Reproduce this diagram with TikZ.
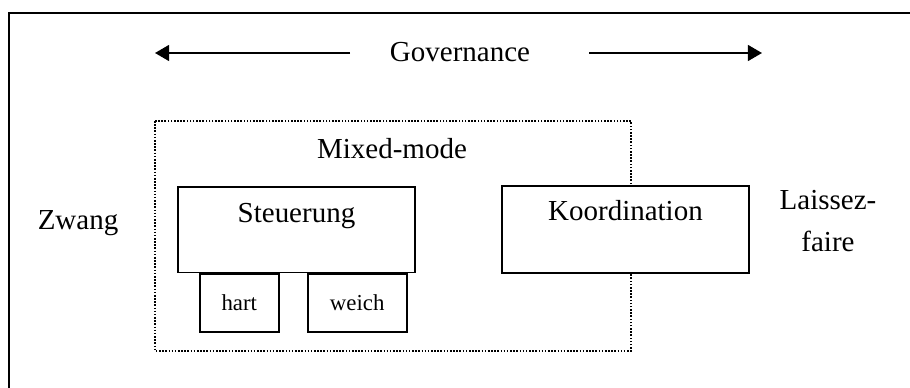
\documentclass[tikz,border=0pt]{standalone}
\usepackage{fontspec}
\setmainfont{Liberation Serif}
\usetikzlibrary{arrows.meta}

\begin{document}
\begin{tikzpicture}[x=0.02cm,y=-0.02cm,>={Triangle[length=8pt,width=9pt]},
 txt/.style={font=\fontsize{16.5}{24}\selectfont,inner sep=0pt},
 small/.style={font=\fontsize{13}{15}\selectfont},
 box/.style={draw,fill=white,line width=1.1pt,anchor=north west,inner sep=0pt,font=\fontsize{16.5}{20}\selectfont},
 subbox/.style={draw,fill=white,line width=1.1pt,anchor=north west,inner sep=0pt,minimum height=32.9pt,small},
 mixed/.style={line width=0.9pt,dash pattern=on 0.9pt off 0.9pt}]
 \clip (0,0) rectangle (910,388);
 % outer frame, cut at right and bottom
 \draw[line width=1.7pt] (9,13) rectangle (940,420);

 % governance axis
 \node[txt] (gov) at (460,52) {Governance};
 \coordinate (lt) at (350,53);
 \coordinate (lh) at (155,53);
 \coordinate (rt) at (589,53);
 \coordinate (rh) at (762,53);
 \draw[->,line width=1.1pt] (lt) -- (lh);
 \draw[->,line width=1.1pt] (rt) -- (rh);

 % the two ends
 \node[txt] (zwang) at (78,223) {Zwang};
 \node[txt,align=center] (laissez) at (828,221) {Laissez-\\faire};

 % mixed-mode area
 \draw[mixed] (155,121) rectangle (631,351);
 \node[txt] (mixmode) at (392,149) {Mixed-mode};

 % boxes
 \node[box,minimum width=134.9pt,text height=20.4pt,text depth=28.3pt] (steu) at (177,186) {Steuerung};
 \node[box,minimum width=140.6pt,text height=19.9pt,text depth=29.4pt] (koord) at (501,185) {Koordination};
 \node[subbox,minimum width=44.8pt] (hart) at (199,273) {hart};
 \node[subbox,minimum width=56.1pt] (weich) at (307,273) {weich};
\end{tikzpicture}
\end{document}
